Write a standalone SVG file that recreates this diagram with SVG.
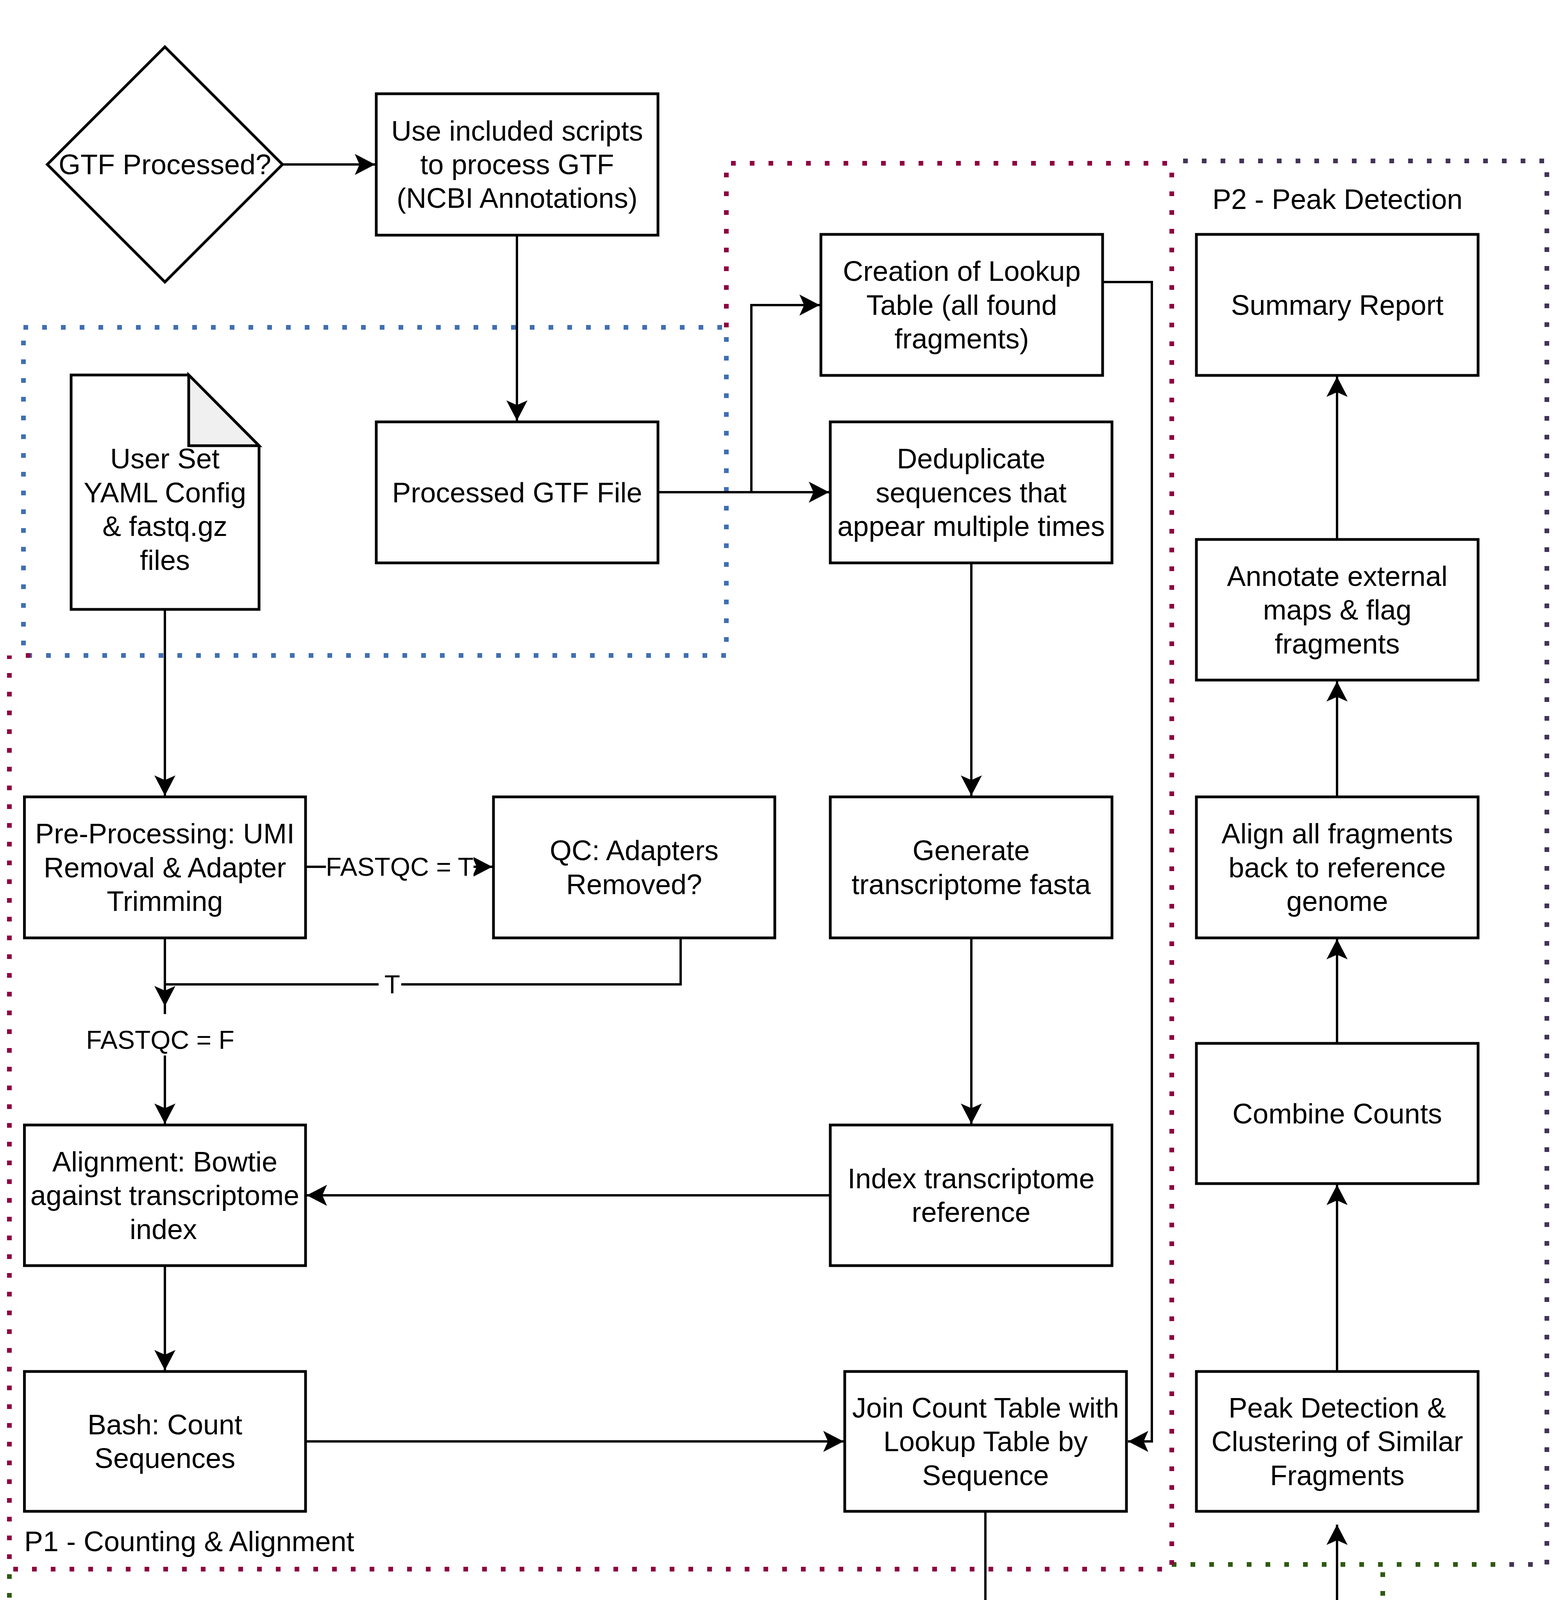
<svg xmlns="http://www.w3.org/2000/svg" width="4008" height="5194" viewBox="0 0 4008 5194">
<style>
text{font-family:"Liberation Sans",Arial,Helvetica,sans-serif;fill:#000}
.t{font-size:72px;text-anchor:middle}
.l{font-size:66px;text-anchor:middle}
.g{font-size:72px}
.box{fill:#fff;stroke:#000;stroke-width:7}
.c{fill:none;stroke:#000;stroke-width:6}
.ca{fill:none;stroke:#000;stroke-width:6;marker-end:url(#arr)}
.dot{fill:none;stroke-width:12;stroke-dasharray:12 36}
.bg{fill:#fff;stroke:none}
</style>
<defs>
<marker id="arr" markerUnits="userSpaceOnUse" viewBox="-54 -29 56 58" refX="0" refY="0" markerWidth="56" markerHeight="58" orient="auto">
<path d="M0,0 L-52,-27 L-40,0 L-52,27 Z" fill="#000"/>
</marker>
</defs>
<rect width="4008" height="5194" fill="#fff"/>

<g id="groups">
<path class="dot" stroke="#2E5A10" d="M24,4030 L24,5156 L3539,5156 L3539,4005"/>
<path class="dot" stroke="#2E5A10" d="M2999,4005 L3830,4005"/>
<path class="dot" stroke="#433357" d="M3028,412 L3959,412 L3959,4005 L3838,4005"/>
<path class="dot" stroke="#8E0040" d="M1859,838 L1859,418 L2999,418 L2999,4017 L24,4017 L24,1678"/>
<rect class="dot" stroke="#3F6FB2" x="60" y="838" width="1799" height="840"/>
<path class="dot" stroke="#8E0040" d="M66,1678 L78,1678" stroke-dasharray="none"/>
<text class="g" x="3103" y="535">P2 - Peak Detection</text>
<text class="g" x="62" y="3971">P1 - Counting &amp; Alignment</text>
<text class="g" x="3520" y="5093" text-anchor="end">S1 - Figures &amp; Filtering</text>
</g>

<g id="connectors">
<path class="ca" d="M723,421 L960,421"/>
<path class="ca" d="M1323,602 L1323,1077"/>
<path class="ca" d="M1684,1260 L1923,1260 L1923,781 L2098,781"/>
<path class="ca" d="M1923,1260 L2122,1260"/>
<path class="ca" d="M2822,722 L2948,722 L2948,3690 L2887,3690"/>
<path class="ca" d="M2486,1441 L2486,2037"/>
<path class="ca" d="M2486,2401 L2486,2877"/>
<path class="ca" d="M2125,3060 L785,3060"/>
<path class="ca" d="M422,1560 L422,2037"/>
<path class="ca" d="M782,2219 L1260,2219"/>
<path class="ca" d="M1742,2401 L1742,2520 L422,2520 L422,2576"/>
<path class="ca" d="M422,2401 L422,2877"/>
<path class="ca" d="M422,3240 L422,3508"/>
<path class="ca" d="M782,3690 L2159,3690"/>
<path class="ca" d="M2522,3869 L2522,4392"/>
<path class="ca" d="M2162,4575 L1805,4575"/>
<path class="ca" d="M1082,4575 L785,4575"/>
<path class="ca" d="M422,4816 L422,4919 L3422,4919 L3422,3903"/>
<path class="ca" d="M3422,3511 L3422,3033"/>
<path class="ca" d="M3422,2671 L3422,2404"/>
<path class="ca" d="M3422,2040 L3422,1744"/>
<path class="ca" d="M3422,1381 L3422,964"/>
<rect class="bg" x="834" y="2180" width="378" height="78"/>
<text class="l" x="1023" y="2242">FASTQC = T</text>
<rect class="bg" x="969" y="2482" width="58" height="76"/>
<text class="l" x="1004" y="2543">T</text>
<rect class="bg" x="212" y="2596" width="398" height="106"/>
<text class="l" x="410" y="2685">FASTQC = F</text>
</g>

<g id="n-gtf-processed">
<path class="box" d="M422,120 L723,421 L422,722 L121,421 Z"/>
<text class="t" x="422" y="446">GTF Processed?</text>
</g>
<g id="n-use-scripts">
<rect class="box" x="963" y="240" width="721" height="362"/>
<text class="t" x="1323.5" y="360">Use included scripts</text>
<text class="t" x="1323.5" y="446">to process GTF</text>
<text class="t" x="1323.5" y="532">(NCBI Annotations)</text>
</g>
<g id="n-processed-gtf">
<rect class="box" x="963" y="1080" width="721" height="361"/>
<text class="t" x="1323.5" y="1286">Processed GTF File</text>
</g>
<g id="n-user-config">
<path class="box" d="M182,960 L483,960 L663,1141 L663,1560 L182,1560 Z"/>
<path d="M483,960 L483,1141 L663,1141 Z" fill="#f0f0f0" stroke="#000" stroke-width="7" stroke-linejoin="miter"/>
<text class="t" x="422" y="1199">User Set</text>
<text class="t" x="422" y="1286">YAML Config</text>
<text class="t" x="422" y="1372">&amp; fastq.gz</text>
<text class="t" x="422" y="1459">files</text>
</g>
<g id="n-lookup">
<rect class="box" x="2101" y="600" width="721" height="361"/>
<text class="t" x="2461.5" y="719">Creation of Lookup</text>
<text class="t" x="2461.5" y="806">Table (all found</text>
<text class="t" x="2461.5" y="892">fragments)</text>
</g>
<g id="n-dedup">
<rect class="box" x="2125" y="1080" width="721" height="361"/>
<text class="t" x="2485.5" y="1199">Deduplicate</text>
<text class="t" x="2485.5" y="1286">sequences that</text>
<text class="t" x="2485.5" y="1372">appear multiple times</text>
</g>
<g id="n-summary">
<rect class="box" x="3062" y="600" width="721" height="361"/>
<text class="t" x="3422.5" y="806">Summary Report</text>
</g>
<g id="n-annotate">
<rect class="box" x="3062" y="1381" width="721" height="360"/>
<text class="t" x="3422.5" y="1500">Annotate external</text>
<text class="t" x="3422.5" y="1586">maps &amp; flag</text>
<text class="t" x="3422.5" y="1673">fragments</text>
</g>
<g id="n-preprocessing">
<rect class="box" x="62.5" y="2040" width="719.5" height="361"/>
<text class="t" x="422" y="2159">Pre-Processing: UMI</text>
<text class="t" x="422" y="2246">Removal &amp; Adapter</text>
<text class="t" x="422" y="2332">Trimming</text>
</g>
<g id="n-qc">
<rect class="box" x="1263" y="2040" width="720" height="361"/>
<text class="t" x="1623" y="2202">QC: Adapters</text>
<text class="t" x="1623" y="2289">Removed?</text>
</g>
<g id="n-generate">
<rect class="box" x="2125" y="2040" width="721" height="361"/>
<text class="t" x="2485.5" y="2202">Generate</text>
<text class="t" x="2485.5" y="2289">transcriptome fasta</text>
</g>
<g id="n-align-genome">
<rect class="box" x="3062" y="2040" width="721" height="361"/>
<text class="t" x="3422.5" y="2159">Align all fragments</text>
<text class="t" x="3422.5" y="2246">back to reference</text>
<text class="t" x="3422.5" y="2332">genome</text>
</g>
<g id="n-combine">
<rect class="box" x="3062" y="2671" width="721" height="359"/>
<text class="t" x="3422.5" y="2876">Combine Counts</text>
</g>
<g id="n-alignment">
<rect class="box" x="62.5" y="2880" width="719.5" height="360"/>
<text class="t" x="422" y="2999">Alignment: Bowtie</text>
<text class="t" x="422" y="3085">against transcriptome</text>
<text class="t" x="418" y="3172">index</text>
</g>
<g id="n-index">
<rect class="box" x="2125" y="2880" width="721" height="360"/>
<text class="t" x="2485.5" y="3042">Index transcriptome</text>
<text class="t" x="2485.5" y="3128">reference</text>
</g>
<g id="n-bash">
<rect class="box" x="62.5" y="3511" width="719.5" height="358"/>
<text class="t" x="422" y="3672">Bash: Count</text>
<text class="t" x="422" y="3758">Sequences</text>
</g>
<g id="n-join">
<rect class="box" x="2162" y="3511" width="721" height="358"/>
<text class="t" x="2522.5" y="3629">Join Count Table with</text>
<text class="t" x="2522.5" y="3715">Lookup Table by</text>
<text class="t" x="2522.5" y="3802">Sequence</text>
</g>
<g id="n-peak">
<rect class="box" x="3062" y="3511" width="721" height="358"/>
<text class="t" x="3422.5" y="3629">Peak Detection &amp;</text>
<text class="t" x="3422.5" y="3715">Clustering of Similar</text>
<text class="t" x="3422.5" y="3802">Fragments</text>
</g>
<g id="n-correct">
<rect class="box" x="2162" y="4395" width="721" height="361"/>
<text class="t" x="2522.5" y="4514">Correct for multi-loci</text>
<text class="t" x="2522.5" y="4601">bias (divide by</text>
<text class="t" x="2522.5" y="4687">number of sources)</text>
</g>
<g id="n-produce">
<rect class="box" x="1082" y="4350" width="720" height="449"/>
<text class="t" x="1442" y="4473">Produce figures for</text>
<text class="t" x="1442" y="4560">length distribution,</text>
<text class="t" x="1442" y="4646">motif, &amp; fragment</text>
<text class="t" x="1442" y="4733">location</text>
</g>
<g id="n-filtered">
<path class="box" d="M62.5,4335 L782,4335 L782,4744 Q602,4614 422,4744 Q242,4874 62.5,4744 Z"/>
<text class="t" x="422" y="4489">Filtered Fragment</text>
<text class="t" x="422" y="4575">Table (&gt;5 adj. counts)</text>
</g>
</svg>
